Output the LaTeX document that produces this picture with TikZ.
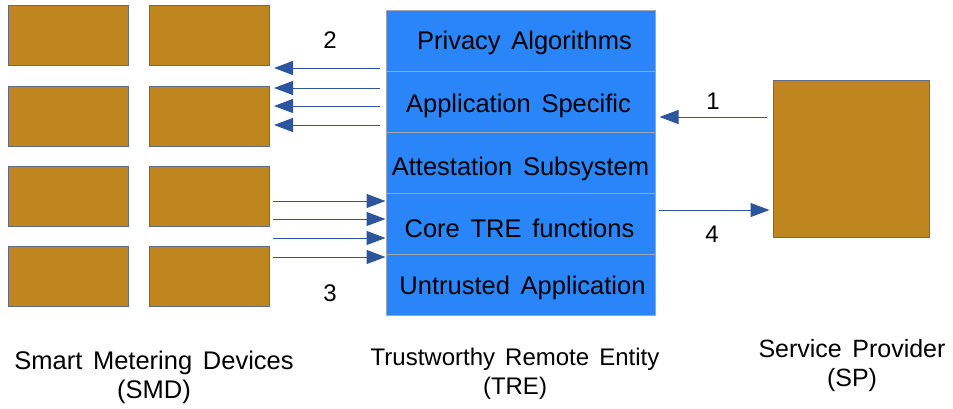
\documentclass[tikz,border=0pt]{standalone}
\usepackage{fontspec}
\setmainfont{Liberation Sans}
\usetikzlibrary{arrows.meta}
\definecolor{gold}{RGB}{191,134,31}
\definecolor{layerblue}{RGB}{42,134,248}
\definecolor{edgegray}{RGB}{95,108,135}
\definecolor{arrowblue}{RGB}{45,85,155}
\newcommand\widespaces{\spaceskip=0.42em\relax}
\tikzset{
  device/.style={draw=edgegray, line width=1pt, fill=gold, minimum width=120pt, minimum height=60pt, inner sep=0pt},
  layer/.style={draw=edgegray!60, line width=1pt, fill=layerblue, minimum width=269pt, minimum height=61pt, inner sep=0pt},
  layertext/.style={inner sep=0pt, anchor=base, font=\fontsize{25.5}{29}\selectfont\widespaces},
  arr/.style={draw=arrowblue, line width=1pt, -{Triangle[length=19pt,width=14pt]}},
  num/.style={font=\fontsize{24}{28}\selectfont},
  caption/.style={font=\fontsize{#1}{29}\selectfont\widespaces, align=center},
  caption/.default=24.5
}
\begin{document}
\begin{tikzpicture}[x=1pt,y=-1pt]
\useasboundingbox (0,0) rectangle (953,408);
% smart metering devices, 4 rows x 2 columns
\foreach \r/\y in {1/35.5,2/116,3/196,4/276}{
  \node[device] (smdA\r) at (68,\y) {};
  \node[device] (smdB\r) at (209.5,\y) {};
}
% TRE layer stack
\node[layer] (priv) at (520.5,40.5) {};
\node[layer] (app)  at (520.5,101.5) {};
\node[layer] (att)  at (520.5,162.5) {};
\node[layer] (core) at (520.5,223.5) {};
\node[layer] (untr) at (520.5,284.5) {};
\node[layertext] (tpriv) at ([xshift=4pt,yshift=-9pt]priv.center) {Privacy Algorithms};
\node[layertext] (tapp)  at ([xshift=-2pt,yshift=-11pt]app.center) {Application Specific};
\node[layertext] (tatt)  at ([yshift=-13pt]att.center) {Attestation Subsystem};
\node[layertext] (tcore) at ([xshift=-1pt,yshift=-14pt]core.center) {Core TRE functions};
\node[layertext] (tuntr) at ([xshift=2pt,yshift=-10pt]untr.center) {Untrusted Application};
% service provider
\node[device, minimum width=156pt, minimum height=157pt] (sp) at (851,158.5) {};
% step 2: TRE to devices
\foreach \y in {68,88,106,125}{
  \coordinate (s\y) at (380,\y);
  \draw[arr] (s\y) -- ([xshift=4pt]smdB1.east |- s\y);
}
% step 3: devices to TRE
\foreach \y in {201,219,238,257}{
  \coordinate (d\y) at (273,\y);
  \draw[arr] (d\y) -- (core.west |- d\y);
}
% step 1 and step 4
\coordinate (p1) at (767,117);
\draw[arr] (p1) -- ([xshift=4pt]app.east |- p1);
\coordinate (p4) at (659,210);
\draw[arr] (p4) -- ([xshift=-3pt]sp.west |- p4);
% step numbers
\node[num] (n2) at (330,40) {2};
\node[num] (n3) at (330,293) {3};
\node[num] (n1) at (713,101) {1};
\node[num] (n4) at (712,234) {4};
% captions
\node[caption=25.5] (csmd) at (154,377) {Smart Metering Devices\\(SMD)};
\node[caption=24] (ctre) at (515,374) {Trustworthy Remote Entity\\(TRE)};
\node[caption=25] (csp)  at (852,366) {Service Provider\\(SP)};
\end{tikzpicture}
\end{document}
